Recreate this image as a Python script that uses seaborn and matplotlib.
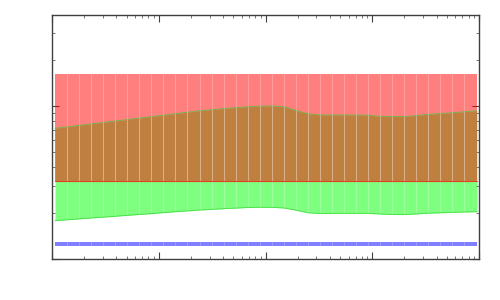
import numpy as np
import matplotlib
matplotlib.use("Agg")
import matplotlib.pyplot as plt
import seaborn as sns
import pandas as pd

# ---- data ----
x = [1.067, 1.382, 1.790, 2.319, 3.004, 3.892, 5.042, 6.531, 8.46, 10.96,
     14.20, 18.39, 24.34, 31.53, 40.86, 52.93, 68.57, 88.81, 115.1, 149.1,
     193.1, 250.1, 324.0, 419.8, 543.7, 704.5, 912.7, 1182, 1531, 1984,
     2570, 3329, 4313, 5587, 7236, 9579]

green_upper = [7.15, 7.31, 7.47, 7.64, 7.81, 7.98, 8.15, 8.34, 8.52, 8.71,
               8.90, 9.10, 9.32, 9.46, 9.62, 9.76, 9.89, 9.98, 10.0, 9.88,
               9.35, 8.89, 8.74, 8.74, 8.74, 8.74, 8.71, 8.57, 8.53, 8.53,
               8.66, 8.83, 8.93, 9.03, 9.17, 9.32]

green_lower = [1.786, 1.810, 1.834, 1.859, 1.882, 1.908, 1.934, 1.960, 1.984, 2.014,
               2.042, 2.069, 2.097, 2.116, 2.139, 2.158, 2.177, 2.184, 2.181, 2.161,
               2.091, 2.011, 1.989, 1.993, 1.995, 1.995, 1.993, 1.975, 1.960, 1.957,
               1.975, 1.999, 2.011, 2.023, 2.035, 2.045]

red_upper = [16.17] * len(x)
red_lower = [3.26] * len(x)
blue_upper = [1.30] * len(x)
blue_lower = [1.227] * len(x)

xlim = (1, 10000)
ylim = (1, 39.4)

# ---- plotting ----
sns.set_style("white")
fig = plt.figure(figsize=(5, 3), dpi=100)
ax = fig.add_axes([0.104, 0.1357, 0.854, 0.8153])
ax.set_xscale("log")
ax.set_yscale("log")


def band(lo, hi, color):
    ax.fill_between(x, lo, hi, color=color, alpha=0.5, linewidth=0)
    # faint light seams between the filled segments, as in the original
    ax.vlines(x[1:-1], lo[1:-1], hi[1:-1], color="white", alpha=0.22, lw=0.8)


band(blue_lower, blue_upper, (0, 0, 1))
band(green_lower, green_upper, (0, 1, 0))

df = pd.DataFrame({"x": x, "gl": green_lower, "gu": green_upper, "rl": red_lower})
sns.lineplot(data=df, x="x", y="gl", ax=ax, color="#44e044", lw=0.6)
sns.lineplot(data=df, x="x", y="gu", ax=ax, color="#66bb44", lw=0.6)

band(red_lower, red_upper, (1, 0, 0))
sns.lineplot(data=df, x="x", y="rl", ax=ax, color="#e04020", lw=0.8)

ax.set_xlim(*xlim)
ax.set_ylim(*ylim)
ax.set_xlabel("")
ax.set_ylabel("")

ax.tick_params(which="both", direction="in", top=True, right=True,
               bottom=True, left=True,
               labelbottom=False, labelleft=False, colors="#404040")
ax.tick_params(which="major", length=5, width=0.8)
ax.tick_params(which="minor", length=2.5, width=0.6, colors="#606060")
for s in ax.spines.values():
    s.set_color("#404040")
    s.set_linewidth(1.0)

fig.savefig("out.png", dpi=100)
